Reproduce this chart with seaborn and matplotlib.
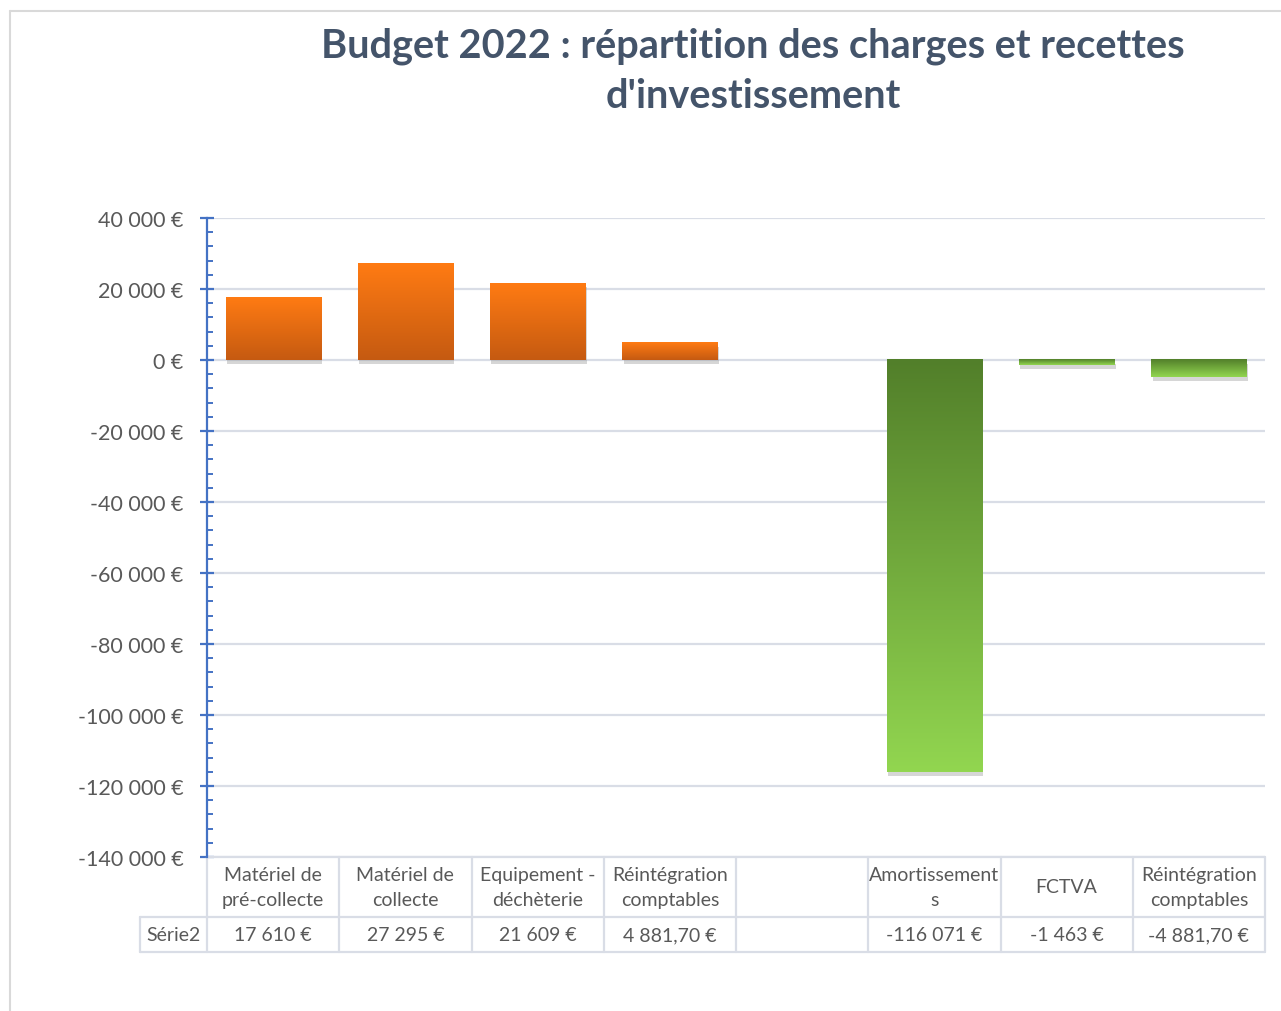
import numpy as np
import pandas as pd
import matplotlib
matplotlib.use("Agg")
import matplotlib.pyplot as plt
import seaborn as sns
from matplotlib.ticker import MultipleLocator, FuncFormatter
from matplotlib.colors import to_rgb
from matplotlib.lines import Line2D
import matplotlib.patheffects as pe

# ---------------- data ----------------
slot_keys = ["c1", "c2", "c3", "c4", "gap", "c5", "c6", "c7"]
category_labels = ["Matériel de\npré-collecte", "Matériel de\ncollecte", "Equipement -\ndéchèterie",
                   "Réintégration\ncomptables", "", "Amortissement\ns", "FCTVA", "Réintégration\ncomptables"]
values = [17610, 27295, 21609, 4881.70, np.nan, -116071, -1463, -4881.70]
value_labels = ["17 610 €", "27 295 €", "21 609 €", "4 881,70 €", "", "-116 071 €", "-1 463 €", "-4 881,70 €"]
series_name = "Série2"
title_lines = ["Budget 2022 : répartition des charges et recettes", "d'investissement"]

df = pd.DataFrame({"slot": slot_keys, "value": values})

W, H = 1281, 1012
sns.set_theme(style="white")
plt.rcParams['font.family'] = ['Lato', 'DejaVu Sans']

fig = plt.figure(figsize=(W / 100, H / 100), dpi=100)
ax = fig.add_axes([207 / W, 1 - 858 / H, (1265 - 207) / W, (858 - 219) / H])

sns.barplot(data=df, x="slot", y="value", order=slot_keys, color="#ed7d31",
            width=0.72, ax=ax, errorbar=None, zorder=3)

ax.set_ylim(-140000, 40000)
ax.set_xlim(-0.5, len(slot_keys) - 0.5)

# gradients
orange_top, orange_bot = to_rgb("#ff7b13"), to_rgb("#c55a11")
green_top, green_bot = to_rgb("#527f2a"), to_rgb("#92d650")
N = 256
for p in ax.patches:
    h = p.get_height()
    if not np.isfinite(h) or h == 0:
        continue
    x0 = p.get_x()
    w = p.get_width()
    y0 = p.get_y()
    ylo, yhi = min(y0, y0 + h), max(y0, y0 + h)
    t = np.linspace(0, 1, N)[:, None]  # 0 bottom -> 1 top
    if h > 0:
        top, bot = orange_top, orange_bot
    else:
        top, bot = green_top, green_bot
    grad = np.array(bot)[None, :] * (1 - t) + np.array(top)[None, :] * t
    grad = grad[:, None, :]
    p.set_facecolor(bot)
    p.set_edgecolor("none")
    p.set_path_effects([pe.SimplePatchShadow(offset=(1.0, -3), shadow_rgbFace="#8c8c8c", alpha=0.35),
                        pe.Normal()])
    ax.imshow(grad, extent=[x0, x0 + w, ylo, yhi], origin="lower", aspect="auto",
              zorder=4, interpolation="bilinear")

ax.set_xlim(-0.5, len(slot_keys) - 0.5)
ax.set_ylim(-140000, 40000)

# axes styling
for s in ["top", "right", "bottom"]:
    ax.spines[s].set_visible(False)
ax.spines["left"].set_color("#4472c4")
ax.spines["left"].set_linewidth(1.6)
ax.yaxis.set_major_locator(MultipleLocator(20000))
ax.yaxis.set_minor_locator(MultipleLocator(4000))


def fmt(v, pos):
    v = int(round(v))
    s = f"{abs(v):,}".replace(",", " ")
    return ("-" if v < 0 else "") + s + " €"


ax.yaxis.set_major_formatter(FuncFormatter(fmt))
ax.tick_params(axis="y", which="major", direction="inout", length=10, width=1.6, color="#4472c4",
               labelsize=15.5, labelcolor="#595959", pad=12, left=True)
ax.tick_params(axis="y", which="minor", direction="in", length=4, width=1.4, color="#4472c4", left=True)
ax.set_xticks([])
ax.set_xlabel("")
ax.set_ylabel("")
ax.grid(axis="y", which="major", color="#d9dde6", linewidth=1.6, zorder=0)
ax.set_axisbelow(True)

# ---------------- data table ----------------
axh = 858 - 219  # axes height px
def ay(py):
    return -(py - 858) / axh

tr = ax.get_xaxis_transform()
line_c = "#d9dde6"
lw = 1.6
row1_top, row1_bot, row2_bot = 858, 918, 953
left_label_x = -0.5 - (207 - 140) / ((1265 - 207) / len(slot_keys))

ax.add_line(Line2D([-0.5, len(slot_keys) - 0.5], [ay(row1_top)] * 2, transform=tr, color=line_c, lw=lw, clip_on=False))
for yy in (row1_bot, row2_bot):
    ax.add_line(Line2D([left_label_x, len(slot_keys) - 0.5], [ay(yy)] * 2, transform=tr, color=line_c, lw=lw, clip_on=False))
for i in range(len(slot_keys) + 1):
    xb = -0.5 + i
    ax.add_line(Line2D([xb, xb], [ay(row1_top), ay(row2_bot)], transform=tr, color=line_c, lw=lw, clip_on=False))
ax.add_line(Line2D([left_label_x, left_label_x], [ay(row1_bot), ay(row2_bot)], transform=tr, color=line_c, lw=lw, clip_on=False))

txt_c = "#595959"
for i, (lab, vl) in enumerate(zip(category_labels, value_labels)):
    ax.text(i, ay(888), lab, transform=tr, ha="center", va="center", fontsize=14,
            color=txt_c, linespacing=1.55, clip_on=False)
    ax.text(i, ay(936), vl, transform=tr, ha="center", va="center", fontsize=14,
            color=txt_c, clip_on=False)
ax.text((left_label_x - 0.5) / 2, ay(936), series_name, transform=tr, ha="center", va="center",
        fontsize=14, color=txt_c, clip_on=False)

# ---------------- title ----------------
title_c = "#44546a"
fig.text(753 / W, 1 - 46 / H, title_lines[0], ha="center", va="center", fontsize=28.6,
         fontweight="bold", color=title_c)
fig.text(753 / W, 1 - 96 / H, title_lines[1], ha="center", va="center", fontsize=28.6,
         fontweight="bold", color=title_c)

# outer frame
fig.add_artist(Line2D([10 / W, 10 / W], [0, 1 - 12 / H], transform=fig.transFigure, color="#d9d9d9", lw=1.5))
fig.add_artist(Line2D([10 / W, 1], [1 - 12 / H, 1 - 12 / H], transform=fig.transFigure, color="#d9d9d9", lw=1.5))

fig.savefig("out.png", dpi=100, facecolor="white")
